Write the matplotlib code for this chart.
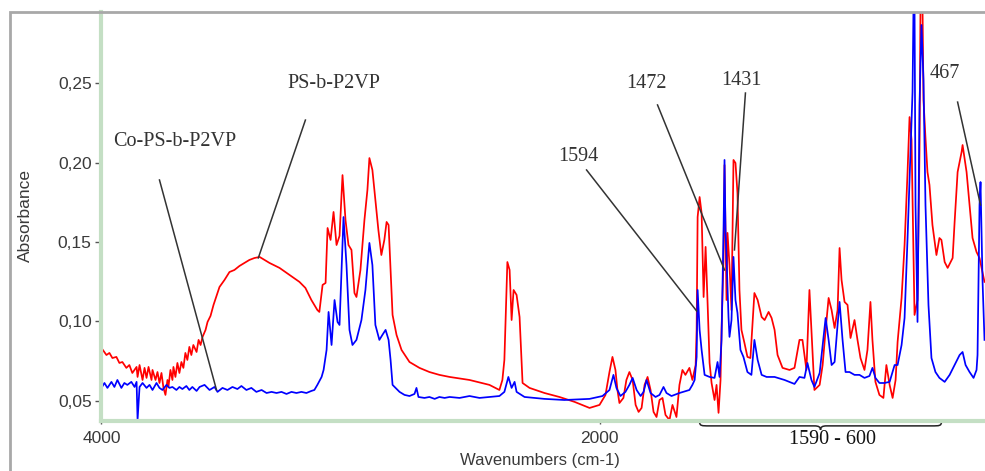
import matplotlib
matplotlib.use('Agg')
import matplotlib.pyplot as plt
from matplotlib.ticker import MultipleLocator, FixedLocator
from matplotlib.patches import Rectangle, PathPatch
from matplotlib.path import Path

plt.rcParams['font.family'] = ['Liberation Sans', 'DejaVu Sans']

# PS-b-P2VP spectrum (red): (wavenumber, absorbance)
ps_trace = [
    (4000, 0.0833), (3980, 0.0789), (3968, 0.0802), (3956, 0.0770), (3940, 0.0777),
    (3928, 0.0739), (3916, 0.0745), (3900, 0.0708), (3888, 0.0726), (3876, 0.0676),
    (3859, 0.0714), (3855, 0.0651), (3847, 0.0726), (3835, 0.0632), (3827, 0.0708),
    (3819, 0.0645), (3811, 0.0714), (3799, 0.0632), (3795, 0.0695), (3783, 0.0632),
    (3775, 0.0682), (3767, 0.0613), (3759, 0.0676), (3751, 0.0582), (3743, 0.0538),
    (3735, 0.0632), (3731, 0.0588), (3723, 0.0695), (3715, 0.0632), (3711, 0.0714),
    (3703, 0.0651), (3695, 0.0739), (3687, 0.0676), (3679, 0.0745), (3671, 0.0708),
    (3663, 0.0802), (3655, 0.0758), (3647, 0.0840), (3639, 0.0789), (3631, 0.0852),
    (3618, 0.0808), (3610, 0.0884), (3602, 0.0852), (3594, 0.0903), (3582, 0.0947),
    (3574, 0.0997), (3562, 0.1035), (3550, 0.1104), (3526, 0.1217), (3506, 0.1261),
    (3486, 0.1311), (3466, 0.1324), (3446, 0.1349), (3426, 0.1368), (3406, 0.1387),
    (3386, 0.1399), (3365, 0.1406), (3345, 0.1387), (3325, 0.1368), (3285, 0.1337),
    (3245, 0.1293), (3205, 0.1249), (3181, 0.1211), (3157, 0.1135), (3133, 0.1072),
    (3125, 0.1060), (3112, 0.1230), (3100, 0.1242), (3092, 0.1588), (3080, 0.1513),
    (3068, 0.1689), (3056, 0.1481), (3044, 0.1538), (3032, 0.1921), (3020, 0.1638),
    (3008, 0.1481), (2996, 0.1450), (2984, 0.1179), (2976, 0.1154), (2960, 0.1324),
    (2944, 0.1638), (2932, 0.1827), (2924, 0.2028), (2912, 0.1953), (2900, 0.1764),
    (2888, 0.1576), (2876, 0.1418), (2864, 0.1513), (2855, 0.1626), (2847, 0.1607),
    (2839, 0.1324), (2831, 0.1041), (2815, 0.0915), (2795, 0.0821), (2763, 0.0745),
    (2723, 0.0708), (2683, 0.0682), (2643, 0.0664), (2602, 0.0651), (2522, 0.0632),
    (2442, 0.0601), (2402, 0.0569), (2390, 0.0632), (2382, 0.0758), (2370, 0.1374),
    (2361, 0.1324), (2353, 0.1009), (2345, 0.1198), (2333, 0.1167), (2321, 0.1028),
    (2309, 0.0613), (2281, 0.0582), (2221, 0.0550), (2161, 0.0525), (2100, 0.0494),
    (2040, 0.0456), (2000, 0.0475), (1976, 0.0538), (1960, 0.0682), (1948, 0.0777),
    (1936, 0.0695), (1928, 0.0569), (1920, 0.0487), (1904, 0.0519), (1892, 0.0632),
    (1880, 0.0682), (1867, 0.0632), (1855, 0.0475), (1843, 0.0431), (1831, 0.0456),
    (1819, 0.0601), (1807, 0.0651), (1795, 0.0569), (1783, 0.0431), (1771, 0.0399),
    (1759, 0.0506), (1747, 0.0519), (1735, 0.0412), (1719, 0.0380), (1707, 0.0475),
    (1691, 0.0399), (1679, 0.0601), (1667, 0.0695), (1655, 0.0664), (1639, 0.0708),
    (1627, 0.0632), (1614, 0.0726), (1610, 0.0947), (1606, 0.1657), (1598, 0.1783),
    (1590, 0.1682), (1582, 0.1154), (1574, 0.1469), (1566, 0.1116), (1558, 0.0739),
    (1550, 0.0613), (1538, 0.0506), (1530, 0.0601), (1522, 0.0425), (1514, 0.0632),
    (1510, 0.0947), (1502, 0.1387), (1498, 0.1984), (1490, 0.1135), (1486, 0.1557),
    (1478, 0.1355), (1470, 0.1072), (1462, 0.2016), (1454, 0.1997), (1446, 0.1808),
    (1438, 0.1198), (1430, 0.0947), (1418, 0.0865), (1406, 0.0777), (1394, 0.0770),
    (1378, 0.1179), (1365, 0.1135), (1349, 0.1028), (1337, 0.1009), (1321, 0.1060),
    (1309, 0.1022), (1297, 0.0947), (1285, 0.0789), (1265, 0.0708), (1237, 0.0695),
    (1217, 0.0708), (1197, 0.0884), (1185, 0.0884), (1169, 0.0695), (1157, 0.1198),
    (1145, 0.0821), (1137, 0.0569), (1116, 0.0601), (1104, 0.0726), (1092, 0.0947),
    (1080, 0.1148), (1068, 0.1072), (1056, 0.0959), (1044, 0.1072), (1036, 0.1462),
    (1028, 0.1261), (1016, 0.1123), (1004, 0.1104), (992, 0.0896), (976, 0.1009),
    (964, 0.0884), (952, 0.0770), (936, 0.0695), (924, 0.0821), (912, 0.1123),
    (904, 0.0884), (892, 0.0620), (876, 0.0538), (860, 0.0519), (848, 0.0726),
    (835, 0.0601), (823, 0.0519), (811, 0.0632), (803, 0.0871), (787, 0.1148),
    (775, 0.1481), (763, 0.1940), (755, 0.2286), (747, 0.2142), (735, 0.1041),
    (723, 0.1135), (715, 0.2079), (711, 0.3000), (703, 0.3000), (699, 0.2393),
    (691, 0.2154), (683, 0.1940), (675, 0.1859), (663, 0.1607), (647, 0.1418),
    (635, 0.1525), (627, 0.1513), (614, 0.1374), (602, 0.1337), (582, 0.1399),
    (574, 0.1626), (562, 0.1940), (546, 0.2066), (542, 0.2110), (526, 0.1940),
    (514, 0.1733), (502, 0.1525), (486, 0.1437), (474, 0.1399), (462, 0.1311),
    (454, 0.1249),
]

# Co-PS-b-P2VP spectrum (blue): (wavenumber, absorbance)
co_trace = [
    (4000, 0.0582), (3988, 0.0613), (3976, 0.0582), (3960, 0.0620), (3948, 0.0588),
    (3936, 0.0632), (3920, 0.0582), (3908, 0.0613), (3896, 0.0601), (3880, 0.0620),
    (3867, 0.0588), (3859, 0.0620), (3855, 0.0380), (3847, 0.0588), (3835, 0.0613),
    (3819, 0.0582), (3807, 0.0601), (3795, 0.0569), (3779, 0.0613), (3767, 0.0582),
    (3755, 0.0569), (3739, 0.0601), (3727, 0.0582), (3715, 0.0588), (3699, 0.0569),
    (3687, 0.0588), (3675, 0.0575), (3659, 0.0594), (3647, 0.0569), (3635, 0.0588),
    (3618, 0.0563), (3606, 0.0588), (3586, 0.0601), (3566, 0.0569), (3546, 0.0588),
    (3534, 0.0557), (3514, 0.0582), (3494, 0.0569), (3474, 0.0588), (3454, 0.0575),
    (3438, 0.0594), (3418, 0.0569), (3398, 0.0582), (3378, 0.0557), (3357, 0.0569),
    (3337, 0.0550), (3317, 0.0557), (3297, 0.0550), (3277, 0.0557), (3257, 0.0544),
    (3237, 0.0557), (3217, 0.0550), (3197, 0.0557), (3177, 0.0550), (3157, 0.0563),
    (3145, 0.0569), (3133, 0.0601), (3116, 0.0651), (3108, 0.0695), (3096, 0.0821),
    (3088, 0.1060), (3076, 0.0852), (3064, 0.1135), (3052, 0.0997), (3044, 0.0978),
    (3028, 0.1657), (3016, 0.1355), (3004, 0.0947), (2992, 0.0852), (2976, 0.0884),
    (2956, 0.1009), (2940, 0.1198), (2924, 0.1494), (2912, 0.1355), (2900, 0.0978),
    (2884, 0.0884), (2872, 0.0915), (2859, 0.0947), (2847, 0.0884), (2839, 0.0758),
    (2831, 0.0601), (2803, 0.0557), (2783, 0.0538), (2763, 0.0531), (2743, 0.0544),
    (2735, 0.0582), (2727, 0.0525), (2703, 0.0519), (2683, 0.0525), (2662, 0.0513),
    (2643, 0.0525), (2622, 0.0519), (2602, 0.0525), (2562, 0.0519), (2522, 0.0531),
    (2482, 0.0519), (2442, 0.0525), (2402, 0.0531), (2382, 0.0557), (2366, 0.0651),
    (2353, 0.0582), (2341, 0.0620), (2333, 0.0557), (2301, 0.0525), (2221, 0.0513),
    (2141, 0.0506), (2040, 0.0513), (1988, 0.0531), (1960, 0.0569), (1944, 0.0664),
    (1932, 0.0582), (1916, 0.0531), (1896, 0.0557), (1880, 0.0601), (1867, 0.0645),
    (1851, 0.0569), (1835, 0.0531), (1823, 0.0557), (1811, 0.0632), (1795, 0.0550),
    (1775, 0.0525), (1759, 0.0538), (1743, 0.0588), (1731, 0.0550), (1711, 0.0531),
    (1679, 0.0550), (1639, 0.0569), (1627, 0.0601), (1618, 0.0632), (1610, 0.0777),
    (1606, 0.1198), (1598, 0.0947), (1590, 0.0821), (1578, 0.0664), (1558, 0.0651),
    (1538, 0.0645), (1526, 0.0745), (1518, 0.0651), (1510, 0.0884), (1502, 0.1576),
    (1498, 0.2016), (1494, 0.1576), (1490, 0.1406), (1482, 0.1028), (1478, 0.0903),
    (1470, 0.1009), (1462, 0.1406), (1454, 0.1135), (1446, 0.1054), (1434, 0.0821),
    (1422, 0.0777), (1406, 0.0682), (1390, 0.0664), (1378, 0.0884), (1365, 0.0758),
    (1349, 0.0664), (1329, 0.0651), (1297, 0.0651), (1257, 0.0632), (1217, 0.0607),
    (1197, 0.0651), (1177, 0.0645), (1165, 0.0739), (1149, 0.0632), (1137, 0.0588),
    (1116, 0.0676), (1104, 0.0852), (1092, 0.1022), (1080, 0.0884), (1068, 0.0726),
    (1056, 0.0745), (1044, 0.0978), (1036, 0.1123), (1024, 0.0884), (1012, 0.0682),
    (996, 0.0682), (976, 0.0664), (956, 0.0664), (936, 0.0645), (916, 0.0657),
    (904, 0.0708), (892, 0.0645), (876, 0.0613), (856, 0.0613), (835, 0.0620),
    (815, 0.0726), (803, 0.0726), (787, 0.0852), (775, 0.1022), (763, 0.1525),
    (751, 0.2079), (743, 0.2444), (739, 0.3000), (735, 0.3000), (731, 0.1733),
    (723, 0.0997), (715, 0.2362), (707, 0.2865), (699, 0.2519), (691, 0.1733),
    (679, 0.1104), (667, 0.0770), (651, 0.0682), (635, 0.0645), (614, 0.0620),
    (594, 0.0664), (574, 0.0726), (554, 0.0789), (542, 0.0808), (530, 0.0726),
    (514, 0.0682), (498, 0.0645), (486, 0.0695), (482, 0.0789), (474, 0.1733),
    (470, 0.1877), (462, 0.1261), (454, 0.0884),
]

# callout labels: text, text position, leader line start, leader line end
callouts = [
    ('Co-PS-b-P2VP', (3707, 0.2135), (3767, 0.189), (3538, 0.0569)),
    ('PS-b-P2VP', (3068, 0.2500), (3181, 0.2267), (3370, 0.1400)),
    ('1594', (2084, 0.2035), (2052, 0.1953), (1610, 0.1066)),
    ('1472', (1811, 0.2494), (1767, 0.2362), (1498, 0.1324)),
    ('1431', (1430, 0.2513), (1414, 0.2437), (1458, 0.1450)),
    ('467', (614, 0.2563), (562, 0.2380), (470, 0.1733)),
]
range_text = '1590 - 600'
range_lo, range_hi = 1598, 627

wn_ps, abs_ps = zip(*ps_trace)
wn_co, abs_co = zip(*co_trace)

fig = plt.figure(figsize=(9.85, 4.71), dpi=100)
ax = fig.add_axes([0.1030, 0.1062, 0.8970, 0.8684])

ax.plot(wn_ps, abs_ps, color='#ff0000', lw=1.25)
ax.plot(wn_co, abs_co, color='#0000ff', lw=1.25)

ax.set_xlim(4000, 452)
ax.set_ylim(0.0374, 0.2947)

for side in ['top', 'right']:
    ax.spines[side].set_visible(False)
for side in ['left', 'bottom']:
    ax.spines[side].set_color('#c4dfc4')
    ax.spines[side].set_linewidth(3)

ax.xaxis.set_major_locator(FixedLocator([4000, 2000]))
ax.xaxis.set_minor_locator(FixedLocator([3500, 3000, 2500, 1500, 1000, 500]))
ax.yaxis.set_major_locator(FixedLocator([0.05, 0.10, 0.15, 0.20, 0.25]))
ax.yaxis.set_minor_locator(MultipleLocator(0.0125))
ax.set_yticklabels(['0,05', '0,10', '0,15', '0,20', '0,25'])
ax.tick_params(which='major', length=4, width=1, color='#555555', labelsize=12.5,
               labelcolor='#3a3a3a', pad=3)
ax.tick_params(which='minor', length=1.5, width=1.5, color='#555555')
ax.tick_params(axis='x', which='major', length=2, pad=5)

fig.text(540 / 985, 1 - 461 / 471, 'Wavenumbers (cm-1)', ha='center', va='center',
         fontsize=12, color='#3a3a3a')
fig.text(25 / 985, 1 - 215 / 471, 'Absorbance', ha='center', va='center',
         rotation=90, fontsize=12.5, color='#3a3a3a')

for label, txt_pos, p0, p1 in callouts:
    ax.text(txt_pos[0], txt_pos[1], label, ha='center', va='center',
            family='Liberation Serif', fontsize=14.5, color='#333333')
    ax.plot([p0[0], p1[0]], [p0[1], p1[1]], color='#333333', lw=1.1)

# curly brace under the fingerprint region
tr = ax.get_xaxis_transform()
mid = (range_lo + range_hi) / 2
verts = [(range_lo, -0.002),
         (range_lo, -0.012), (range_lo - 8, -0.012), (range_lo - 40, -0.012),
         (mid + 25, -0.012),
         (mid + 6, -0.012), (mid, -0.015), (mid, -0.022),
         (mid, -0.015), (mid - 6, -0.012), (mid - 25, -0.012),
         (range_hi + 40, -0.012),
         (range_hi + 8, -0.012), (range_hi, -0.012), (range_hi, -0.002)]
codes = [Path.MOVETO,
         Path.CURVE4, Path.CURVE4, Path.CURVE4,
         Path.LINETO,
         Path.CURVE4, Path.CURVE4, Path.CURVE4,
         Path.CURVE4, Path.CURVE4, Path.CURVE4,
         Path.LINETO,
         Path.CURVE4, Path.CURVE4, Path.CURVE4]
ax.add_patch(PathPatch(Path(verts, codes), transform=tr, fill=False,
                       ec='#222222', lw=1.1, clip_on=False))
ax.text(1064, -0.045, range_text, transform=tr, ha='center', va='center',
        family='Liberation Serif', fontsize=14.5, color='#111111')

# window frame
fig.add_artist(Rectangle((10 / 985, -0.1), 2, 1 - 11.5 / 471 + 0.1,
                         transform=fig.transFigure, fill=False, ec='#a8a8a8', lw=2))

fig.savefig('out.png', dpi=100)
